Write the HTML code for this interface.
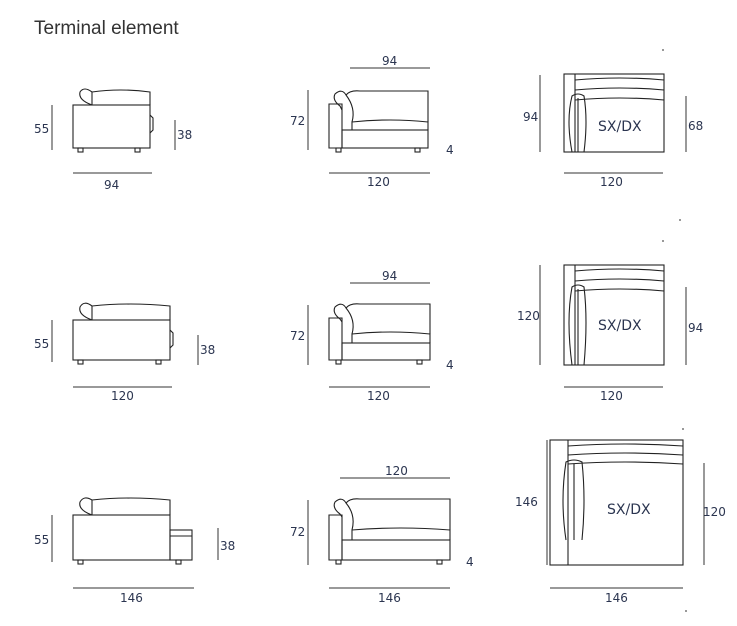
<!DOCTYPE html>
<html><head><meta charset="utf-8"><style>
body{margin:0;background:#fff;}
svg{display:block;font-family:"DejaVu Sans","Liberation Sans",sans-serif;}
.t{fill:#2b3550;font-size:12px;}
.d{stroke:#333;stroke-width:1;fill:none}
.s{stroke:#222;stroke-width:1.1;fill:none}
</style></head><body>
<svg width="737" height="626" viewBox="0 0 737 626">
<text x="34" y="34" style="font-family:'Liberation Sans',sans-serif;font-size:19px;fill:#333">Terminal element</text>

<!-- ROW 1 side -->
<g class="s">
<rect x="73" y="105" width="77" height="43"/>
<path d="M92 105 V92 Q120 88 150 92 V105"/>
<path d="M92 105 Q78 100 80 92 Q84 86 92 92"/>
<path d="M150 115 L153 118 V130 L150 133"/>
<rect x="78" y="148" width="5" height="4"/><rect x="135" y="148" width="5" height="4"/>
</g>
<g class="d"><line x1="52" y1="105" x2="52" y2="150"/><line x1="175" y1="120" x2="175" y2="150"/><line x1="73" y1="173" x2="152" y2="173"/></g>
<text class="t" x="34" y="133">55</text><text class="t" x="177" y="139">38</text><text class="t" x="104" y="189">94</text>

<!-- ROW 1 middle -->
<g class="s">
<path d="M329 148 V104 H342 V148 Z"/>
<rect x="342" y="130" width="86" height="18"/>
<path d="M352 130 V122 Q390 118 428 122 V130"/>
<path d="M352 122 Q356 108 346 95 Q342 88 335 94 Q332 100 340 106 L342 110"/>
<path d="M346 95 Q350 90 360 91 H428 V122"/>
<rect x="336" y="148" width="5" height="4"/><rect x="415" y="148" width="5" height="4"/>
</g>
<g class="d"><line x1="308" y1="90" x2="308" y2="150"/><line x1="350" y1="68" x2="430" y2="68"/><line x1="329" y1="173" x2="430" y2="173"/></g>
<text class="t" x="290" y="125">72</text><text class="t" x="382" y="65">94</text><text class="t" x="367" y="186">120</text><text class="t" x="446" y="154">4</text>

<!-- ROW 1 right -->
<g class="s">
<rect x="564" y="74" width="100" height="78"/>
<line x1="575" y1="74" x2="575" y2="152"/>
<path d="M575 80 Q620 76 664 80 M575 90 Q620 86 664 90 M575 100 Q620 96 664 100"/>
<path d="M572 152 Q566 120 572 96 Q578 92 584 96 Q588 120 584 152"/>
<line x1="578" y1="98" x2="578" y2="152"/>
</g>
<g class="d"><line x1="540" y1="75" x2="540" y2="152"/><line x1="686" y1="96" x2="686" y2="152"/><line x1="564" y1="173" x2="663" y2="173"/><line x1="663" y1="49" x2="663" y2="51"/></g>
<text class="t" x="523" y="121">94</text><text class="t" x="688" y="130">68</text><text class="t" x="600" y="186">120</text>
<text class="t" x="598" y="131" style="font-size:14px">SX/DX</text>

<!-- ROW 2 side -->
<g class="s">
<rect x="73" y="320" width="97" height="40"/>
<path d="M92 320 V306 Q130 302 170 306 V320"/>
<path d="M92 320 Q78 315 80 307 Q84 300 92 306"/>
<path d="M170 330 L173 333 V345 L170 348"/>
<rect x="78" y="360" width="5" height="4"/><rect x="156" y="360" width="5" height="4"/>
</g>
<g class="d"><line x1="52" y1="320" x2="52" y2="362"/><line x1="198" y1="335" x2="198" y2="365"/><line x1="73" y1="387" x2="172" y2="387"/></g>
<text class="t" x="34" y="348">55</text><text class="t" x="200" y="354">38</text><text class="t" x="111" y="400">120</text>

<!-- ROW 2 middle -->
<g class="s">
<path d="M329 360 V318 H342 V360 Z"/>
<rect x="342" y="343" width="88" height="17"/>
<path d="M352 343 V334 Q390 330 430 334 V343"/>
<path d="M352 334 Q356 320 346 308 Q342 301 335 307 Q332 313 340 319 L342 322"/>
<path d="M346 308 Q350 303 360 304 H430 V334"/>
<rect x="336" y="360" width="5" height="4"/><rect x="417" y="360" width="5" height="4"/>
</g>
<g class="d"><line x1="308" y1="305" x2="308" y2="365"/><line x1="350" y1="283" x2="430" y2="283"/><line x1="329" y1="387" x2="430" y2="387"/></g>
<text class="t" x="290" y="340">72</text><text class="t" x="382" y="280">94</text><text class="t" x="367" y="400">120</text><text class="t" x="446" y="369">4</text>

<!-- ROW 2 right -->
<g class="s">
<rect x="564" y="265" width="100" height="100"/>
<line x1="575" y1="265" x2="575" y2="365"/>
<path d="M575 271 Q620 267 664 271 M575 281 Q620 277 664 281 M575 291 Q620 287 664 291"/>
<path d="M572 365 Q566 320 572 287 Q578 283 584 287 Q588 320 584 365"/>
<line x1="578" y1="289" x2="578" y2="365"/>
</g>
<g class="d"><line x1="540" y1="265" x2="540" y2="365"/><line x1="686" y1="287" x2="686" y2="365"/><line x1="564" y1="387" x2="663" y2="387"/><line x1="663" y1="240" x2="663" y2="242"/><line x1="680" y1="219" x2="680" y2="221"/></g>
<text class="t" x="517" y="320">120</text><text class="t" x="688" y="332">94</text><text class="t" x="600" y="400">120</text>
<text class="t" x="598" y="330" style="font-size:14px">SX/DX</text>

<!-- ROW 3 side -->
<g class="s">
<rect x="73" y="515" width="97" height="45"/>
<rect x="170" y="530" width="22" height="30"/>
<line x1="170" y1="536" x2="192" y2="536"/>
<path d="M92 515 V500 Q130 496 170 500 V515"/>
<path d="M92 515 Q78 510 80 502 Q84 495 92 500"/>
<rect x="78" y="560" width="5" height="4"/><rect x="176" y="560" width="5" height="4"/>
</g>
<g class="d"><line x1="52" y1="515" x2="52" y2="562"/><line x1="218" y1="528" x2="218" y2="560"/><line x1="73" y1="588" x2="194" y2="588"/></g>
<text class="t" x="34" y="544">55</text><text class="t" x="220" y="550">38</text><text class="t" x="120" y="602">146</text>

<!-- ROW 3 middle -->
<g class="s">
<path d="M329 560 V515 H342 V560 Z"/>
<rect x="342" y="540" width="108" height="20"/>
<path d="M352 540 V530 Q400 526 450 530 V540"/>
<path d="M352 530 Q356 515 346 503 Q342 496 335 502 Q332 508 340 514 L342 517"/>
<path d="M346 503 Q350 498 360 499 H450 V530"/>
<rect x="336" y="560" width="5" height="4"/><rect x="437" y="560" width="5" height="4"/>
</g>
<g class="d"><line x1="308" y1="500" x2="308" y2="565"/><line x1="340" y1="478" x2="450" y2="478"/><line x1="329" y1="588" x2="450" y2="588"/></g>
<text class="t" x="290" y="536">72</text><text class="t" x="385" y="475">120</text><text class="t" x="378" y="602">146</text><text class="t" x="466" y="566">4</text>

<!-- ROW 3 right -->
<g class="s">
<rect x="550" y="440" width="133" height="125"/>
<line x1="568" y1="440" x2="568" y2="565"/>
<path d="M568 446 Q625 442 683 446 M568 455 Q625 451 683 455 M568 464 Q625 460 683 464"/>
<path d="M566 540 Q560 500 566 462 Q574 458 582 462 Q586 500 582 540"/>
<line x1="574" y1="464" x2="574" y2="540"/>
</g>
<g class="d"><line x1="547" y1="440" x2="547" y2="565"/><line x1="704" y1="463" x2="704" y2="565"/><line x1="550" y1="588" x2="683" y2="588"/><line x1="683" y1="428" x2="683" y2="430"/><line x1="686" y1="610" x2="686" y2="612"/></g>
<text class="t" x="515" y="506">146</text><text class="t" x="703" y="516">120</text><text class="t" x="605" y="602">146</text>
<text class="t" x="607" y="514" style="font-size:14px">SX/DX</text>
</svg>
</body></html>
